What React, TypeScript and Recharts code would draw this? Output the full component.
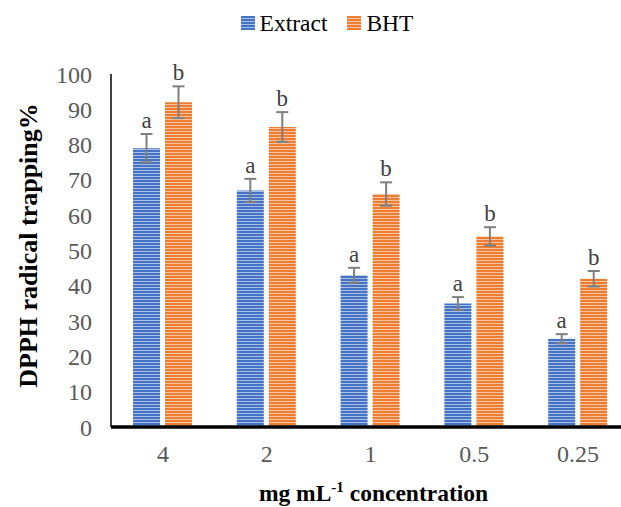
import { BarChart, Bar, XAxis, YAxis, Legend, ErrorBar, LabelList, Label } from 'recharts';

const categories = ['4', '2', '1', '0.5', '0.25'];
const extractValues = [79, 67, 43, 35, 25];
const extractErrors = [4, 3.3, 2.1, 1.8, 1.3];
const extractLetters = ['a', 'a', 'a', 'a', 'a'];
const bhtValues = [92, 85, 66, 54, 42];
const bhtErrors = [4.5, 4.2, 3.3, 2.6, 2.2];
const bhtLetters = ['b', 'b', 'b', 'b', 'b'];
const yTicks = [0, 10, 20, 30, 40, 50, 60, 70, 80, 90, 100];

const data = categories.map((c, i) => ({
  name: c,
  extract: extractValues[i],
  extractErr: extractErrors[i],
  bht: bhtValues[i],
  bhtErr: bhtErrors[i],
}));

const serif = '"Liberation Serif", "Times New Roman", serif';
const BLUE = '#4472C4';
const ORANGE = '#ED7D31';

const letterLabel = (letters: string[], errors: number[]) => (props: any) => {
  const { x, y, width, height, value, index } = props;
  const pxPerUnit = Number(height) / Number(value);
  const top = Number(y) - errors[index] * pxPerUnit;
  return (
    <text x={Number(x) + Number(width) / 2} y={top - 6} textAnchor="middle" fontSize={23} fill="#404040" fontFamily={serif}>
      {letters[index]}
    </text>
  );
};

const StripeSwatch = ({ color }: { color: string }) => (
  <svg width={14} height={14} style={{ marginRight: 5 }}>
    <rect width={14} height={14} fill={`url(#stripe-${color === BLUE ? 'blue' : 'orange'})`} />
  </svg>
);

const renderLegend = () => (
  <div style={{ height: 66, display: 'flex', justifyContent: 'center', alignItems: 'flex-start' }}>
    <div style={{ display: 'flex', alignItems: 'center', height: 30, fontFamily: serif, fontSize: 23.5, color: '#000', marginLeft: 24 }}>
      <StripeSwatch color={BLUE} />
      <span style={{ marginRight: 20 }}>Extract</span>
      <StripeSwatch color={ORANGE} />
      <span>BHT</span>
    </div>
  </div>
);

const App = () => {
  return (
    <div style={{ position: 'absolute', left: 0, top: 0, width: 621, height: 507, overflow: 'hidden', background: '#fff' }}>
      <BarChart width={640} height={507} data={data} margin={{ top: 8, right: 10, bottom: 20, left: 0 }} barSize={27} barGap={5}>
        <defs>
          <pattern id="stripe-blue" width={4} height={3} patternUnits="userSpaceOnUse">
            <rect width={4} height={3} fill={BLUE} />
            <rect y={2} width={4} height={1} fill="#ffffff" fillOpacity={0.55} />
          </pattern>
          <pattern id="stripe-orange" width={4} height={3} patternUnits="userSpaceOnUse">
            <rect width={4} height={3} fill={ORANGE} />
            <rect y={2} width={4} height={1} fill="#ffffff" fillOpacity={0.55} />
          </pattern>
        </defs>
        <Legend verticalAlign="top" align="center" content={renderLegend} />
        <XAxis
          dataKey="name"
          tickLine={false}
          axisLine={{ stroke: '#000', strokeWidth: 3.5 }}
          tick={{ fill: '#595959', fontSize: 24, fontFamily: serif }}
          tickMargin={12}
          height={60}
        >
          <Label
            content={({ viewBox }: any) => (
              <text
                x={viewBox.x + viewBox.width / 2 + 3}
                y={viewBox.y + 74}
                textAnchor="middle"
                fontSize={23.5}
                fontWeight="bold"
                fontFamily={serif}
                fill="#000"
              >
                mg mL
                <tspan dy={-9} fontSize={15}>-1</tspan>
                <tspan dy={9}> concentration</tspan>
              </text>
            )}
          />
        </XAxis>
        <YAxis
          domain={[0, 100]}
          ticks={yTicks}
          interval={0}
          tickLine={false}
          axisLine={{ stroke: '#000', strokeWidth: 1.5 }}
          tick={{ fill: '#595959', fontSize: 24, fontFamily: serif }}
          tickMargin={13}
          width={111}
        >
          <Label
            content={({ viewBox }: any) => (
              <text
                x={28}
                y={viewBox.y + viewBox.height / 2 - 5}
                textAnchor="middle"
                dominantBaseline="central"
                transform={`rotate(-90, 28, ${viewBox.y + viewBox.height / 2 - 5})`}
                fontSize={26}
                fontWeight="bold"
                fontFamily={serif}
                fill="#000"
              >
                DPPH radical trapping%
              </text>
            )}
          />
        </YAxis>
        <Bar dataKey="extract" name="Extract" fill="url(#stripe-blue)" isAnimationActive={false}>
          <ErrorBar dataKey="extractErr" width={6} stroke="#7f7f7f" strokeWidth={2} direction="y" />
          <LabelList dataKey="extract" content={letterLabel(extractLetters, extractErrors)} />
        </Bar>
        <Bar dataKey="bht" name="BHT" fill="url(#stripe-orange)" isAnimationActive={false}>
          <ErrorBar dataKey="bhtErr" width={6} stroke="#7f7f7f" strokeWidth={2} direction="y" />
          <LabelList dataKey="bht" content={letterLabel(bhtLetters, bhtErrors)} />
        </Bar>
      </BarChart>
    </div>
  );
};

export default App;
